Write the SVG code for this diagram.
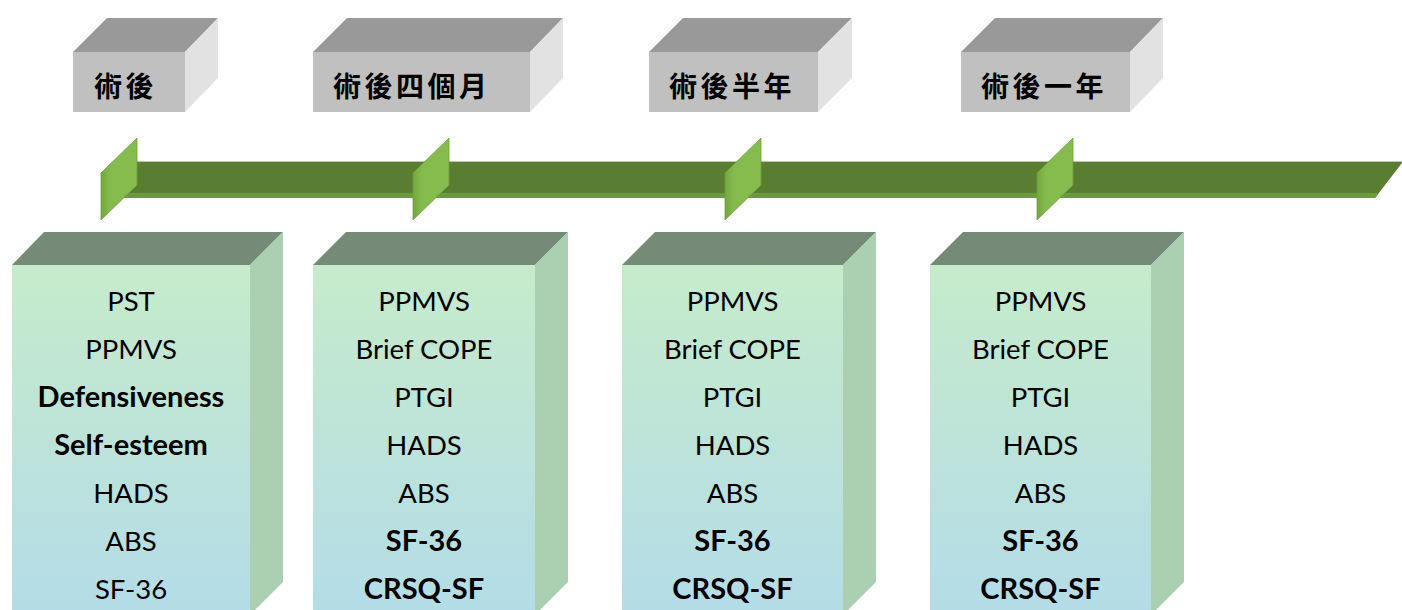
<svg xmlns="http://www.w3.org/2000/svg" width="1402" height="610" viewBox="0 0 1402 610">
<defs>
<linearGradient id="frontGrad" x1="0" y1="0" x2="0" y2="1">
<stop offset="0" stop-color="#c6ebcb"/>
<stop offset="1" stop-color="#b4dce8"/>
</linearGradient>
<linearGradient id="markerGrad" x1="0" y1="0" x2="1" y2="0">
<stop offset="0" stop-color="#74a83e"/>
<stop offset="0.25" stop-color="#85ba4c"/>
<stop offset="1" stop-color="#86bb4d"/>
</linearGradient>
</defs>
<style>
.tfront{fill:#c0c0c0;}
.ttop{fill:#999999;}
.tside{fill:#e2e2e2;}
.ttext{font-family:"Noto Sans CJK TC","Noto Sans CJK SC",sans-serif;font-size:28px;font-weight:bold;fill:#000;letter-spacing:3.5px;}
.bfront{fill:url(#frontGrad);}
.btop{fill:#758b78;}
.bside{fill:#aad0b1;}
.btext{font-family:Lato,"Open Sans",sans-serif;font-size:27.5px;fill:#000;text-anchor:middle;}
.b{font-weight:bold;font-size:29px;}
.marker{fill:url(#markerGrad);stroke:#6e9f3c;stroke-width:0.8;}
</style>

<g id="timeline">
<polygon points="115,162 1402,162 1402,163 1375,198 115,198" fill="#5a7e31"/>
<polygon points="115,193 1379,193 1375,198 115,198" fill="#6b9a3b"/>
<line x1="137" y1="161.5" x2="1402" y2="161.5" stroke="#b9ccaa" stroke-width="1"/>
</g>

<g id="connectors">
<polygon class="marker" points="101,173 137,138 137,185 101,220"/>
<polygon class="marker" points="413,173 449,138 449,185 413,220"/>
<polygon class="marker" points="725,173 761,138 761,185 725,220"/>
<polygon class="marker" points="1037,173 1073,138 1073,185 1037,220"/>
</g>

<g id="top1">
<polygon class="ttop" points="73,52 107,18 218,18 185,52"/>
<polygon class="tside" points="185,52 218,18 218,78 185,112"/>
<rect class="tfront" x="73" y="52" width="112" height="60"/>
<text class="ttext" x="94" y="97">術後</text>
</g>
<g id="top2">
<polygon class="ttop" points="313,52 347,18 563,18 530,52"/>
<polygon class="tside" points="530,52 563,18 563,78 530,112"/>
<rect class="tfront" x="313" y="52" width="217" height="60"/>
<text class="ttext" x="333" y="97">術後四個月</text>
</g>
<g id="top3">
<polygon class="ttop" points="649,52 683,18 852,18 818,52"/>
<polygon class="tside" points="818,52 852,18 852,78 818,112"/>
<rect class="tfront" x="649" y="52" width="169" height="60"/>
<text class="ttext" x="669" y="97">術後半年</text>
</g>
<g id="top4">
<polygon class="ttop" points="961,52 995,18 1163,18 1130,52"/>
<polygon class="tside" points="1130,52 1163,18 1163,78 1130,112"/>
<rect class="tfront" x="961" y="52" width="169" height="60"/>
<text class="ttext" x="981" y="97">術後一年</text>
</g>

<g id="box1">
<polygon class="btop" points="12,265 44,232 283,232 250,265"/>
<polygon class="bside" points="250,265 283,232 283,582 250,615"/>
<rect class="bfront" x="12" y="265" width="238" height="350"/>
<text class="btext" x="131" y="311">PST</text>
<text class="btext" x="131" y="359">PPMVS</text>
<text class="btext b" x="131" y="407">Defensiveness</text>
<text class="btext b" x="131" y="455">Self-esteem</text>
<text class="btext" x="131" y="503">HADS</text>
<text class="btext" x="131" y="551">ABS</text>
<text class="btext" x="131" y="599">SF-36</text>
</g>
<g id="box2">
<polygon class="btop" points="313,265 346,232 568,232 535,265"/>
<polygon class="bside" points="535,265 568,232 568,582 535,615"/>
<rect class="bfront" x="313" y="265" width="222" height="350"/>
<text class="btext" x="424" y="311">PPMVS</text>
<text class="btext" x="424" y="359">Brief COPE</text>
<text class="btext" x="424" y="407">PTGI</text>
<text class="btext" x="424" y="455">HADS</text>
<text class="btext" x="424" y="503">ABS</text>
<text class="btext b" x="424" y="551">SF-36</text>
<text class="btext b" x="424" y="599">CRSQ-SF</text>
</g>
<g id="box3">
<polygon class="btop" points="622,265 655,232 876,232 843,265"/>
<polygon class="bside" points="843,265 876,232 876,582 843,615"/>
<rect class="bfront" x="622" y="265" width="221" height="350"/>
<text class="btext" x="732.5" y="311">PPMVS</text>
<text class="btext" x="732.5" y="359">Brief COPE</text>
<text class="btext" x="732.5" y="407">PTGI</text>
<text class="btext" x="732.5" y="455">HADS</text>
<text class="btext" x="732.5" y="503">ABS</text>
<text class="btext b" x="732.5" y="551">SF-36</text>
<text class="btext b" x="732.5" y="599">CRSQ-SF</text>
</g>
<g id="box4">
<polygon class="btop" points="930,265 963,232 1184,232 1151,265"/>
<polygon class="bside" points="1151,265 1184,232 1184,582 1151,615"/>
<rect class="bfront" x="930" y="265" width="221" height="350"/>
<text class="btext" x="1040.5" y="311">PPMVS</text>
<text class="btext" x="1040.5" y="359">Brief COPE</text>
<text class="btext" x="1040.5" y="407">PTGI</text>
<text class="btext" x="1040.5" y="455">HADS</text>
<text class="btext" x="1040.5" y="503">ABS</text>
<text class="btext b" x="1040.5" y="551">SF-36</text>
<text class="btext b" x="1040.5" y="599">CRSQ-SF</text>
</g>
</svg>
